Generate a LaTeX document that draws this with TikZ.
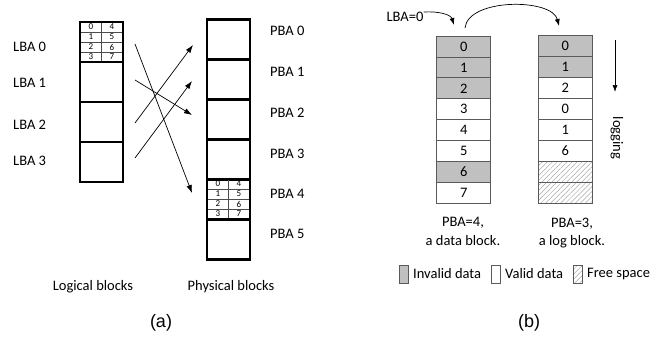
\documentclass[tikz,border=0pt]{standalone}
\usepackage{fontspec}
\setmainfont{Carlito}
\newfontfamily\arialf{Liberation Sans}
\usetikzlibrary{arrows.meta,patterns.meta}
\definecolor{invgray}{HTML}{C0C0C0}
\definecolor{bordgray}{HTML}{5A5A5A}
\definecolor{hatchgray}{HTML}{A8A8A8}
\tikzset{
  txt/.style={font=\fontsize{14.5}{17}\selectfont, inner sep=0pt},
  smalltxt/.style={font=\fontsize{9}{10}\selectfont, inner sep=0pt},
  capt/.style={font=\arialf\fontsize{18}{20}\selectfont, inner sep=0pt},
  blk/.style={draw=black, line width=2.4pt, minimum width=43pt, minimum height=40pt, inner sep=0pt},
  cell/.style={draw=bordgray, line width=0.8pt, minimum width=54pt, minimum height=21pt, inner sep=0pt, font=\fontsize{14.5}{17}\selectfont},
  inv/.style={cell, fill=invgray},
  val/.style={cell, fill=white},
  free/.style={cell, pattern={Lines[angle=45,distance=3.5pt,line width=0.5pt]}, pattern color=hatchgray},
  arr/.style={-{Latex[length=8pt,width=5.5pt]}, line width=0.7pt},
  gridline/.style={draw=black!70, line width=0.6pt},
  legbox/.style={draw=bordgray, line width=0.7pt, minimum width=9pt, minimum height=18pt, inner sep=0pt},
}
\begin{document}
\begin{tikzpicture}[x=1pt,y=-1pt]
\useasboundingbox (0,0) rectangle (658,338);

% ---------- (a) ----------
% logical blocks
\foreach \k/\y in {0/42,1/82,2/122,3/162}{
  \node[blk] (lb\k) at (101.5,\y) {};
}
% sub-grid in LBA 0
\draw[gridline] (101.5,23) -- (101.5,61);
\foreach \y in {32,42,52}{ \draw[gridline] (81,\y) -- (122,\y); }
\foreach \r/\a/\b in {0/0/4,1/1/5,2/2/6,3/3/7}{
  \node[smalltxt] (lsa\r) at (91,{27+10*\r}) {\a};
  \node[smalltxt] (lsb\r) at (112,{27+10*\r}) {\b};
}
% physical blocks
\foreach \k in {0,...,5}{
  \node[blk] (pb\k) at (228.5,{39.5+40*\k}) {};
}
% sub-grid in PBA 4
\draw[gridline] (228.5,180) -- (228.5,218);
\foreach \y in {189,199,209}{ \draw[gridline] (208,\y) -- (249,\y); }
\foreach \r/\a/\b in {0/0/4,1/1/5,2/2/6,3/3/7}{
  \node[smalltxt] (psa\r) at (218,{184+10*\r}) {\a};
  \node[smalltxt] (psb\r) at (239,{184+10*\r}) {\b};
}
% labels
\node[txt, anchor=west] (llb0) at (13,46.5) {LBA 0};
\node[txt, anchor=west] (llb1) at (13,82.5) {LBA 1};
\node[txt, anchor=west] (llb2) at (13,125) {LBA 2};
\node[txt, anchor=west] (llb3) at (13,161) {LBA 3};
\foreach \k/\y in {0/31,1/71.5,2/113,3/154,4/193.5,5/233.5}{
  \node[txt, anchor=west] (lpb\k) at (270,\y) {PBA \k};
}
% mapping arrows
\coordinate (m0s) at (135,44);  \coordinate (m0e) at (192,193);
\coordinate (m1s) at (135,80);  \coordinate (m1e) at (192,115);
\coordinate (m2s) at (135,123); \coordinate (m2e) at (193,45);
\coordinate (m3s) at (135,158); \coordinate (m3e) at (192,81);
\draw[arr] (m0s) -- (m0e);
\draw[arr] (m1s) -- (m1e);
\draw[arr] (m2s) -- (m2e);
\draw[arr] (m3s) -- (m3e);
\node[txt] (logic) at (93,287) {Logical blocks};
\node[txt] (phys) at (231,287) {Physical blocks};
\node[capt] (capa) at (161,323) {(a)};

% ---------- (b) ----------
\foreach \k/\v/\s in {0/0/inv,1/1/inv,2/2/inv,3/3/val,4/4/val,5/5/val,6/6/inv,7/7/val}{
  \node[\s] (d\k) at (463.7,{46.5+20.9*\k}) {\v};
}
\foreach \k/\v/\s in {0/0/inv,1/1/inv,2/2/val,3/0/val,4/1/val,5/6/val,6//free,7//free}{
  \node[\s, minimum width=53.7pt] (g\k) at (565.2,{45.5+21*\k}) {\v};
}
\node[txt] (lbaeq) at (405,17) {LBA=0};
\coordinate (c1e) at (454,25);
\draw[arr, -{Latex[length=7pt,width=5pt]}] (lbaeq.north east) .. controls (440,11) and (451,15) .. (c1e);
\coordinate (c2s) at (465,28);
\coordinate (c2e) at (559,26);
\draw[arr, -{Latex[length=7pt,width=5pt]}] (c2s) .. controls (468,-2) and (552,-2) .. (c2e);
\coordinate (lgs) at (615,40);
\coordinate (lge) at (615,92);
\draw[arr, -{Latex[length=7pt,width=5pt]}] (lgs) -- (lge);
\node[txt, rotate=-90] (logtxt) at (617,138) {logging};
\node[txt] (cd1) at (463,223) {PBA=4,};
\node[txt] (cd2) at (463,240.5) {a data block.};
\node[txt] (cg1) at (572,224) {PBA=3,};
\node[txt] (cg2) at (572,242) {a log block.};
% legend
\node[legbox, fill=invgray] (lg1) at (403.5,274) {};
\node[txt, anchor=west] (lt1) at (413,274) {Invalid data};
\node[legbox, fill=white] (lg2) at (495.5,274) {};
\node[txt, anchor=west] (lt2) at (505,274) {Valid data};
\node[legbox, pattern={Lines[angle=45,distance=3.5pt,line width=0.5pt]}, pattern color=hatchgray] (lg3) at (577.5,274) {};
\node[txt, anchor=west] (lt3) at (587,274) {Free space};
\node[capt] (capb) at (529,323) {(b)};
\end{tikzpicture}
\end{document}
